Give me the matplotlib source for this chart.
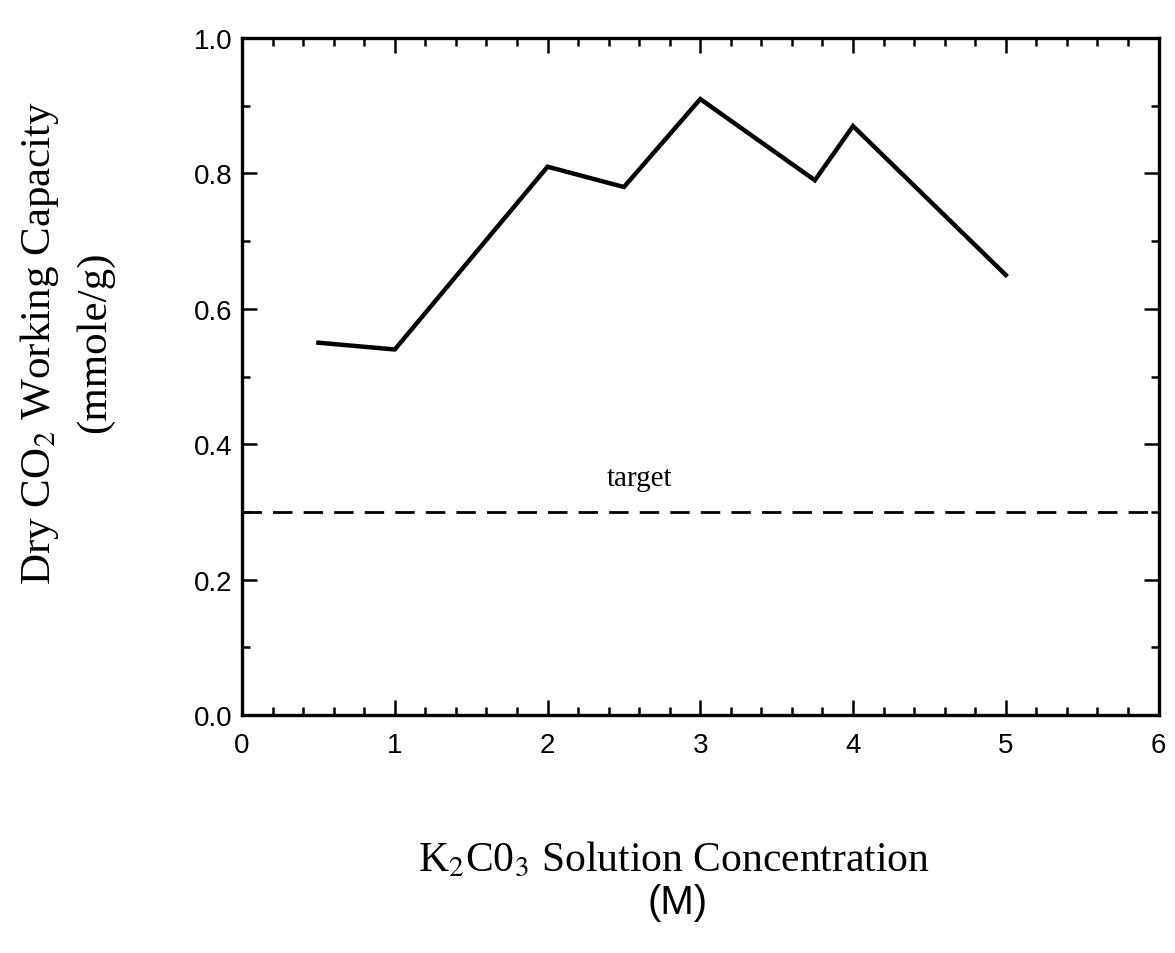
#!/usr/bin/env python3

import numpy as np
import matplotlib.pyplot as plt
from matplotlib.ticker import MultipleLocator

plt.rcParams['mathtext.fontset'] = 'stix'

# K2CO3 solution concentration (M) vs dry CO2 working capacity (mmole/g)
conc     = [0.5, 1.0, 2.0, 2.5, 3.0, 3.75, 4.0, 5.0]
capacity = [0.55, 0.54, 0.81, 0.78, 0.91, 0.79, 0.87, 0.65]
target   = 0.3

xticks = [0, 1, 2, 3, 4, 5, 6]
yticks = [0.0, 0.2, 0.4, 0.6, 0.8, 1.0]

serif = ['Liberation Serif', 'DejaVu Serif']
sans  = ['Liberation Sans', 'DejaVu Sans']

fig = plt.figure(figsize=(11.75, 9.54), dpi=100)
ax = fig.add_axes([0.206, 0.2495, 0.780, 0.7095])

ax.plot(conc, capacity, color='black', lw=3.2, solid_joinstyle='miter')
ax.axhline(target, color='black', lw=2.0, linestyle=(0, (7, 4)))
ax.text(2.6, 0.35, 'target', ha='center', va='center', fontsize=21, family=serif)

ax.set_xlim(0, 6)
ax.set_ylim(0, 1)
ax.set_xticks(xticks)
ax.set_yticks(yticks)
ax.set_xticklabels([str(v) for v in xticks])
ax.set_yticklabels(['%.1f' % v for v in yticks])
ax.xaxis.set_minor_locator(MultipleLocator(0.2))
ax.yaxis.set_minor_locator(MultipleLocator(0.1))
ax.tick_params(which='both', direction='in', top=True, right=True, width=1.8, colors='black')
ax.tick_params(which='major', length=11)
ax.tick_params(which='minor', length=6)
ax.tick_params(axis='x', which='major', pad=12, labelsize=20)
ax.tick_params(axis='y', which='major', pad=7, labelsize=20)
for lab in ax.get_xticklabels() + ax.get_yticklabels():
   lab.set_family(sans)
for sp in ax.spines.values():
   sp.set_linewidth(2.4)

# axis titles, placed by hand like the original figure
fig.text(0.034, 0.641, 'Dry CO$_2$ Working Capacity', rotation=90, ha='center', va='center',
         fontsize=31, family=serif)
fig.text(0.081, 0.641, '(mmole/g)', rotation=90, ha='center', va='center',
         fontsize=31, family=serif)
fig.text(0.574, 0.098, 'K$_2$C0$_3$ Solution Concentration', ha='center', va='center',
         fontsize=30, family=serif)
fig.text(0.577, 0.053, '(M)', ha='center', va='center', fontsize=29,
         family=['Liberation Sans Narrow', 'Liberation Sans', 'DejaVu Sans'])

fig.savefig('out.png', dpi=100, facecolor='w')
